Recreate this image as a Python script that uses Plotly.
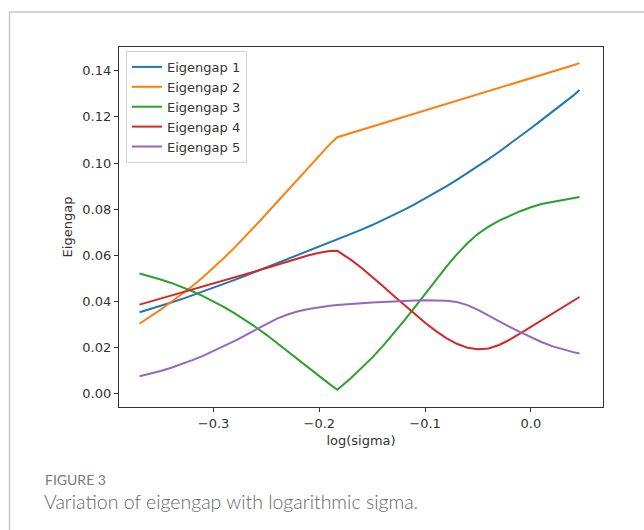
import plotly.graph_objects as go

log_sigma = [-0.37, -0.36, -0.35, -0.34, -0.33, -0.32, -0.31, -0.30, -0.29, -0.28, -0.27, -0.26,
             -0.25, -0.24, -0.23, -0.22, -0.21, -0.20, -0.19, -0.183,
             -0.17, -0.16, -0.15, -0.14, -0.13, -0.12, -0.11, -0.10, -0.09, -0.08, -0.07, -0.06,
             -0.05, -0.04, -0.03, -0.02, -0.01, 0.00, 0.01, 0.02, 0.03, 0.04, 0.046]

eigengap_1 = [0.0353, 0.0366, 0.0380, 0.0395, 0.0410, 0.0426, 0.0442, 0.0459, 0.0476, 0.0493, 0.0511, 0.0529,
              0.0547, 0.0565, 0.0583, 0.0601, 0.0619, 0.0637, 0.0655, 0.0668,
              0.0691, 0.0711, 0.0731, 0.0752, 0.0774, 0.0797, 0.0821, 0.0846, 0.0872, 0.0899, 0.0927, 0.0956,
              0.0986, 0.1017, 0.1049, 0.1082, 0.1116, 0.1151, 0.1186, 0.1221, 0.1256, 0.1292, 0.1317]
eigengap_2 = [0.0303, 0.0333, 0.0364, 0.0397, 0.0431, 0.0467, 0.0505, 0.0546, 0.0589, 0.0634, 0.0681, 0.0730,
              0.0780, 0.0830, 0.0880, 0.0931, 0.0981, 0.1032, 0.1082, 0.1112,
              0.1130, 0.1144, 0.1158, 0.1172, 0.1186, 0.1200, 0.1214, 0.1228, 0.1242, 0.1256, 0.1270, 0.1284,
              0.1298, 0.1312, 0.1326, 0.1340, 0.1354, 0.1368, 0.1382, 0.1396, 0.1410, 0.1424, 0.1433]
eigengap_3 = [0.0521, 0.0509, 0.0495, 0.0480, 0.0463, 0.0444, 0.0423, 0.0400, 0.0375, 0.0348, 0.0319, 0.0288,
              0.0255, 0.0220, 0.0184, 0.0148, 0.0112, 0.0076, 0.0040, 0.0017,
              0.0068, 0.0110, 0.0156, 0.0206, 0.0259, 0.0315, 0.0373, 0.0432, 0.0492, 0.0550, 0.0604, 0.0652,
              0.0693, 0.0724, 0.0750, 0.0772, 0.0791, 0.0808, 0.0822, 0.0831, 0.0840, 0.0848, 0.0853]
eigengap_4 = [0.0386, 0.0399, 0.0412, 0.0425, 0.0438, 0.0452, 0.0465, 0.0478, 0.0491, 0.0504, 0.0518, 0.0531,
              0.0545, 0.0559, 0.0573, 0.0587, 0.0600, 0.0611, 0.0618, 0.0619,
              0.0580, 0.0545, 0.0507, 0.0467, 0.0426, 0.0385, 0.0345, 0.0307, 0.0272, 0.0241, 0.0216, 0.0199,
              0.0192, 0.0196, 0.0211, 0.0234, 0.0261, 0.0289, 0.0318, 0.0346, 0.0374, 0.0402, 0.0419]
eigengap_5 = [0.0075, 0.0086, 0.0098, 0.0112, 0.0128, 0.0145, 0.0164, 0.0185, 0.0206, 0.0229, 0.0253, 0.0278,
              0.0303, 0.0325, 0.0343, 0.0357, 0.0367, 0.0375, 0.0381, 0.0384,
              0.0389, 0.0392, 0.0395, 0.0397, 0.0400, 0.0402, 0.0404, 0.0405, 0.0405, 0.0403, 0.0397, 0.0384,
              0.0363, 0.0338, 0.0313, 0.0289, 0.0267, 0.0245, 0.0224, 0.0206, 0.0192, 0.0180, 0.0174]

series_names = ["Eigengap 1", "Eigengap 2", "Eigengap 3", "Eigengap 4", "Eigengap 5"]
series_values = [eigengap_1, eigengap_2, eigengap_3, eigengap_4, eigengap_5]
colors = ["#1f77b4", "#ff7f0e", "#2ca02c", "#d62728", "#9467bd"]

y_ticks = [0.00, 0.02, 0.04, 0.06, 0.08, 0.10, 0.12, 0.14]
x_ticks = [-0.3, -0.2, -0.1, 0.0]

fig = go.Figure()
for name, vals, col in zip(series_names, series_values, colors):
    fig.add_trace(go.Scatter(x=log_sigma, y=vals, mode="lines", name=name,
                             line=dict(color=col, width=2)))

axis_font = dict(family="DejaVu Sans", size=13, color="#333333")

fig.update_layout(
    width=644, height=530,
    margin=dict(l=119, r=41, t=47, b=123),
    paper_bgcolor="white", plot_bgcolor="white",
    showlegend=True,
    legend=dict(x=0.0145, y=0.989, xanchor="left", yanchor="top",
                bgcolor="rgba(255,255,255,0.85)", bordercolor="#d0d0d0", borderwidth=1,
                font=dict(family="DejaVu Sans", size=13, color="#333333"),
                tracegroupgap=0, itemwidth=30),
    xaxis=dict(range=[-0.3894, 0.0682], tickvals=x_ticks, tickformat=".1f",
               showgrid=False, zeroline=False, showline=True, mirror=True,
               linecolor="#333333", linewidth=1.2, ticks="outside", ticklen=4,
               tickcolor="#333333", tickfont=axis_font,
               title=dict(text="log(sigma)", font=axis_font, standoff=6)),
    yaxis=dict(range=[-0.0058, 0.1503], tickvals=y_ticks, tickformat=".2f",
               showgrid=False, zeroline=False, showline=True, mirror=True,
               linecolor="#333333", linewidth=1.2, ticks="outside", ticklen=4,
               tickcolor="#333333", tickfont=axis_font,
               title=dict(text="Eigengap", font=axis_font, standoff=6)),
    shapes=[dict(type="rect", xref="paper", yref="paper", x0=-0.2262, x1=2.0, y0=-1.0, y1=1.0972,
                 line=dict(color="#c8c8c8", width=1.5), fillcolor="rgba(0,0,0,0)", layer="below")],
    annotations=[
        dict(text="FIGURE 3", xref="paper", yref="paper", x=-0.157, y=-0.2, xanchor="left",
             yanchor="middle", showarrow=False,
             font=dict(family="Lato", size=14, color="#7a7a7a")),
        dict(text="Variation of eigengap with logarithmic sigma.", xref="paper", yref="paper",
             x=-0.159, y=-0.263, xanchor="left", yanchor="middle", showarrow=False,
             font=dict(family="Lato", size=19.5, color="#666666", weight=300)),
    ],
)

fig.write_html("out.html")
